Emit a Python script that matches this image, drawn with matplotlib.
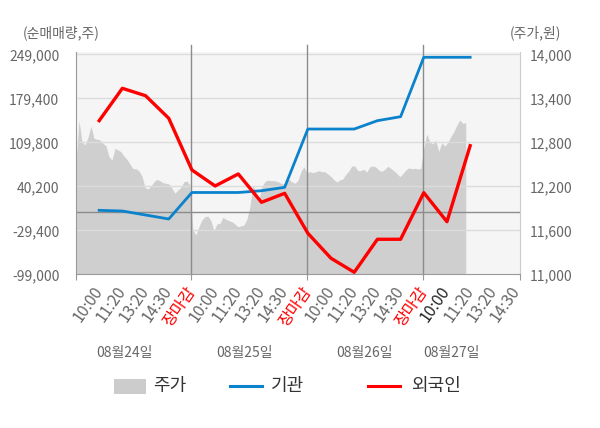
import numpy as np
import matplotlib
matplotlib.use("Agg")
import matplotlib.pyplot as plt
from matplotlib.lines import Line2D
from matplotlib.patches import Rectangle

plt.rcParams['font.family'] = ['Noto Sans CJK KR', 'DejaVu Sans']

# ---------------- data ----------------
time_labels = ["10:00", "11:20", "13:20", "14:30", "장마감",
               "10:00", "11:20", "13:20", "14:30", "장마감",
               "10:00", "11:20", "13:20", "14:30", "장마감",
               "10:00", "11:20", "13:20", "14:30"]
dates = ["08월24일", "08월25일", "08월26일", "08월27일"]

institution = [2200, 1100, -5200, -11500, 30400, 30400, 30400, 33200, 38600,
               130800, 130800, 130800, 144000, 150300, 244300, 244300, 244300]
foreign = [144000, 195200, 183500, 147800, 66000, 40700, 59700, 14900, 29100,
           -34100, -73700, -95800, -43600, -43600, 30100, -15800, 104400]

price_day1 = [12536, 13100, 12808, 12763, 12868, 13022, 12855, 12841, 12831, 12786,
              12750, 12604, 12559, 12718, 12695, 12672, 12613, 12568, 12504, 12440,
              12440, 12409, 12340, 12186, 12163, 12204, 12263, 12295, 12276, 12249,
              12241, 12231, 12173, 12105, 12150, 12186, 12263, 12272, 12218]
price_day2 = [11604, 11536, 11649, 11740, 11785, 11795, 11731, 11595, 11686, 11695,
              11777, 11750, 11731, 11717, 11686, 11649, 11659, 11672, 11750, 11922,
              12218, 12105, 12013, 12195, 12263, 12286, 12276, 12276, 12268, 12249,
              12231, 12249, 12295, 12259, 12241, 12276, 12399, 12467]
price_day3 = [12386, 12399, 12386, 12399, 12413, 12399, 12399, 12368, 12336, 12290,
              12259, 12286, 12300, 12364, 12409, 12477, 12477, 12413, 12413, 12432,
              12395, 12467, 12477, 12463, 12422, 12404, 12432, 12473, 12445, 12413,
              12377, 12331, 12372, 12422, 12450, 12440, 12445, 12436, 12445]
price_day4 = [12718, 12913, 12808, 12777, 12831, 12672, 12795, 12750, 12795, 12877,
              12940, 13032, 13104, 13059, 13067]

vol_ticks = [-99000, -29400, 40200, 109800, 179400, 249000]
price_ticks = [11000, 11600, 12200, 12800, 13400, 14000]

# ---------------- figure ----------------
W, H = 600, 428
fig = plt.figure(figsize=(W / 100, H / 100), dpi=100)
fig.patch.set_facecolor('white')

ax_l, ax_r, ax_t, ax_b = 76, 520, 51.7, 274.3
ax = fig.add_axes([ax_l / W, 1 - ax_b / H, (ax_r - ax_l) / W, (ax_b - ax_t) / H])
ax.set_facecolor('#f5f5f5')

price = np.array(price_day1 + price_day2 + price_day3 + price_day4, dtype=float)
px = np.linspace(-1.0, 15.81, len(price))
ax.fill_between(px, 11000, price, color='#cfcfcf', linewidth=0, zorder=1)

xmin, xmax = -1.0, 18.15
ax.set_xlim(xmin, xmax)
pstep = (14000 - 11000) / 220.0
ax.set_ylim(11000, 14000 + 2.6 * pstep)

axv = ax.twinx()
# price axis on the right, volume axis on the left
ax.yaxis.tick_right()
ax.set_yticks(price_ticks)
ax.set_yticklabels([f"{v:,}" for v in price_ticks])
ax.tick_params(axis='y', length=0, pad=7, labelsize=10, colors='#666666')

axv.yaxis.tick_left()
vstep = (249000 - (-99000)) / 220.0
axv.set_ylim(-99000, 249000 + 2.6 * vstep)
axv.set_yticks(vol_ticks)
axv.set_yticklabels([f"{v:,}" for v in vol_ticks])
axv.tick_params(axis='y', length=0, pad=12, labelsize=10, colors='#666666')
axv.patch.set_visible(False)

# grid lines
for v in vol_ticks[1:]:
    axv.axhline(v, color='#dcdcdc', lw=1.0, zorder=2)
axv.axhline(0, color='#8c8c8c', lw=1.0, zorder=2)

# day boundaries
n = len(time_labels)
idx = np.arange(n)
bounds = [i for i, t in enumerate(time_labels) if t == "장마감"]
for b in bounds:
    axv.axvline(b - 0.05, ymin=0, ymax=1.03, color='#8c8c8c', lw=1.0, zorder=2, clip_on=False)

# lines
axv.plot(np.arange(len(institution)), institution, color='#0a82cc', lw=2.0, zorder=4)
axv.plot(np.arange(len(foreign)), foreign, color='#ff0000', lw=2.4, zorder=5)

# spines
for a in (ax, axv):
    for s in ('top', 'left', 'right', 'bottom'):
        a.spines[s].set_visible(False)
axv.spines['left'].set_visible(True)
axv.spines['left'].set_color('#999999')
axv.spines['right'].set_visible(True)
axv.spines['right'].set_color('#cccccc')
axv.spines['bottom'].set_visible(True)
axv.spines['bottom'].set_color('#999999')

# x ticks (on the base axes, the twin's x-axis is hidden)
major = [xmin] + [b - 0.05 for b in bounds] + [xmax]
ax.set_xticks(major)
ax.set_xticklabels([''] * len(major))
ax.tick_params(axis='x', which='major', length=4, color='#999999', direction='out')
ax.set_xticks(idx, minor=True)
ax.set_xticklabels(time_labels, minor=True, fontsize=11.5)
ax.tick_params(axis='x', which='minor', length=0, pad=10, colors='#666666', labelrotation=55)
for i, lab in enumerate(ax.get_xticklabels(minor=True)):
    lab.set_ha('right')
    lab.set_va('center')
    lab.set_rotation_mode('anchor')
    if time_labels[i] == "장마감":
        lab.set_color('#ff0000')
    elif i == 15:
        lab.set_color('#222222')

# date labels
date_x = [1.1, 6.25, 11.45, 15.2]
for dx, d in zip(date_x, dates):
    axv.text(dx, -0.355, d, transform=axv.get_xaxis_transform(), ha='center', va='center',
             fontsize=10, color='#666666')

# axis titles
fig.text(61 / W, 1 - 33 / H, "(순매매량,주)", ha='center', va='center', fontsize=10, color='#666666')
fig.text(535 / W, 1 - 33 / H, "(주가,원)", ha='center', va='center', fontsize=10, color='#666666')

# legend
ly = 1 - 386 / H
fig.add_artist(Rectangle((114 / W, ly - 7.5 / H), 31.5 / W, 15 / H, transform=fig.transFigure,
                         facecolor='#cccccc', edgecolor='none'))
fig.text(153 / W, ly, "주가", ha='left', va='center', fontsize=13, color='#333333')
fig.add_artist(Line2D([230 / W, 262 / W], [ly, ly], transform=fig.transFigure,
                      color='#0a82cc', lw=2.2))
fig.text(271 / W, ly, "기관", ha='left', va='center', fontsize=13, color='#333333')
fig.add_artist(Line2D([368 / W, 400 / W], [ly, ly], transform=fig.transFigure,
                      color='#ff0000', lw=2.2))
fig.text(411 / W, ly, "외국인", ha='left', va='center', fontsize=13, color='#333333')

fig.savefig("out.png", dpi=100, facecolor='white')
